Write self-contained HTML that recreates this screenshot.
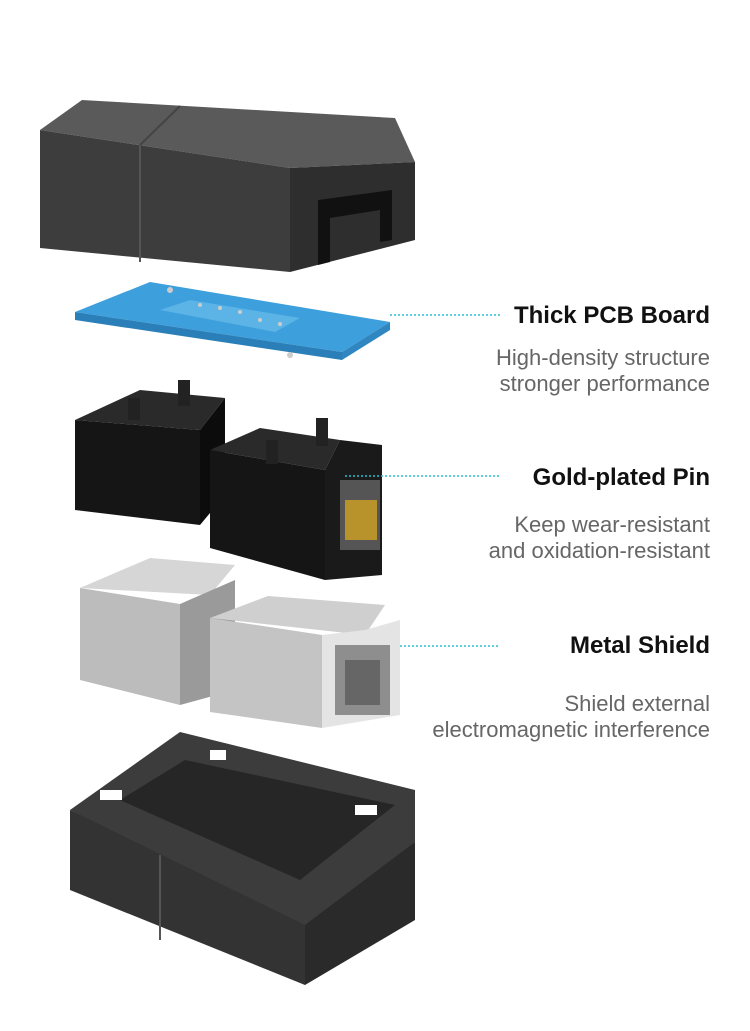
<!DOCTYPE html>
<html><head><meta charset="utf-8">
<style>
html,body{margin:0;padding:0;background:#fff;}
body{width:750px;height:1031px;position:relative;overflow:hidden;font-family:"Liberation Sans",sans-serif;}
.t{position:absolute;right:40px;text-align:right;color:#111;font-weight:bold;font-size:24px;}
.s{position:absolute;right:40px;text-align:right;color:#666;font-size:22px;line-height:26px;}
svg{position:absolute;left:0;top:0;}
</style></head><body>
<svg width="750" height="1031" viewBox="0 0 750 1031">
<!-- top cover -->
<polygon points="40,130 82,100 395,118 415,162 290,168" fill="#5a5a5a"/>
<polygon points="40,130 290,168 290,272 40,248" fill="#3d3d3d"/>
<polygon points="290,168 415,162 415,240 290,272" fill="#2e2e2e"/>
<polygon points="318,200 392,190 392,240 380,242 380,210 330,218 330,262 318,265" fill="#111"/>
<line x1="140" y1="145" x2="140" y2="262" stroke="#555" stroke-width="2"/>
<line x1="140" y1="145" x2="180" y2="106" stroke="#444" stroke-width="2"/>
<!-- PCB -->
<polygon points="75,312 150,282 390,322 342,352" fill="#3d9fdc"/>
<polygon points="75,312 342,352 342,360 75,320" fill="#2a7fb8"/>
<polygon points="342,352 390,322 390,330 342,360" fill="#2f86c0"/>
<polygon points="160,310 190,300 300,318 275,332" fill="#5bb3e6"/>
<g fill="#ccc"><circle cx="170" cy="290" r="3"/><circle cx="290" cy="355" r="3"/><circle cx="200" cy="305" r="2"/><circle cx="220" cy="308" r="2"/><circle cx="240" cy="312" r="2"/><circle cx="260" cy="320" r="2"/><circle cx="280" cy="324" r="2"/></g>
<!-- left black jack -->
<polygon points="75,420 140,390 225,398 200,430" fill="#2a2a2a"/>
<polygon points="75,420 200,430 200,525 75,510" fill="#151515"/>
<polygon points="200,430 225,398 225,495 200,525" fill="#0c0c0c"/>
<rect x="128" y="398" width="12" height="22" fill="#222"/><rect x="178" y="380" width="12" height="26" fill="#222"/>
<!-- right black jack -->
<polygon points="210,450 260,428 340,440 325,470" fill="#2a2a2a"/>
<polygon points="210,450 325,470 325,580 210,548" fill="#151515"/>
<polygon points="325,470 340,440 382,445 382,575 325,580" fill="#1a1a1a"/>
<rect x="340" y="480" width="40" height="70" fill="#555"/>
<rect x="345" y="500" width="32" height="40" fill="#b8922a"/>
<rect x="266" y="440" width="12" height="24" fill="#222"/><rect x="316" y="418" width="12" height="28" fill="#222"/>
<!-- metal shields -->
<polygon points="80,588 150,558 235,565 210,595" fill="#d6d6d6"/>
<polygon points="80,588 180,604 180,705 80,680" fill="#bcbcbc"/>
<polygon points="180,604 235,580 235,690 180,705" fill="#9a9a9a"/>
<polygon points="210,618 268,596 385,605 365,635" fill="#cfcfcf"/>
<polygon points="210,618 322,635 322,728 210,712" fill="#c4c4c4"/>
<polygon points="322,635 365,630 400,620 400,715 322,728" fill="#e4e4e4"/>
<rect x="335" y="645" width="55" height="70" fill="#8e8e8e"/>
<rect x="345" y="660" width="35" height="45" fill="#666"/>
<!-- bottom case -->
<polygon points="70,810 180,732 415,790 415,842 305,935" fill="#3c3c3c"/>
<polygon points="120,800 185,760 395,805 300,880" fill="#262626"/>
<polygon points="70,810 305,925 305,985 70,890" fill="#333"/>
<polygon points="305,925 415,842 415,920 305,985" fill="#2a2a2a"/>
<line x1="160" y1="855" x2="160" y2="940" stroke="#555" stroke-width="2"/>
<rect x="100" y="790" width="22" height="10" fill="#fff"/><rect x="210" y="750" width="16" height="10" fill="#fff"/><rect x="355" y="805" width="22" height="10" fill="#fff"/>
<!-- dotted lines -->
<g stroke="#2bbfd0" stroke-width="1.5" stroke-dasharray="2,2">
<line x1="390" y1="315" x2="500" y2="315"/>
<line x1="345" y1="476" x2="500" y2="476"/>
<line x1="400" y1="646" x2="500" y2="646"/>
</g>
</svg>
<div class="t" style="top:302px">Thick PCB Board</div>
<div class="s" style="top:345px">High-density structure<br>stronger performance</div>
<div class="t" style="top:464px">Gold-plated Pin</div>
<div class="s" style="top:512px">Keep wear-resistant<br>and oxidation-resistant</div>
<div class="t" style="top:632px">Metal Shield</div>
<div class="s" style="top:691px">Shield external<br>electromagnetic interference</div>
</body></html>
